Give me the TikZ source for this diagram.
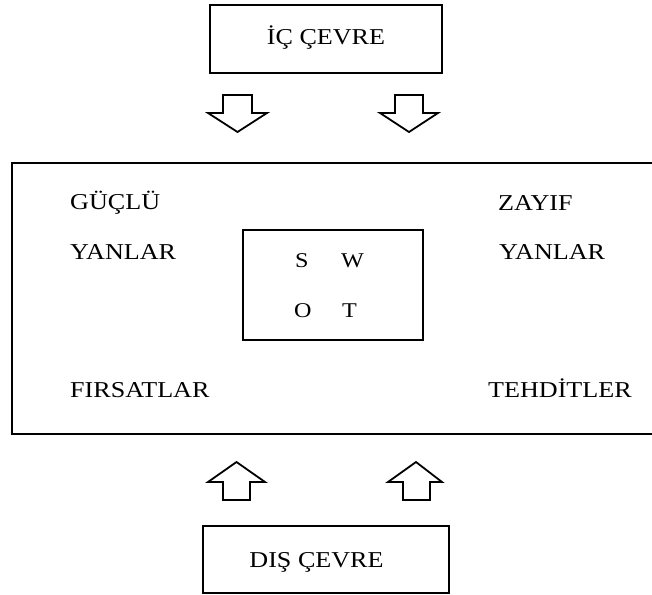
\documentclass[tikz,border=0pt]{standalone}
\usepackage{fontspec}
\setmainfont{Liberation Serif}[FakeStretch=1.15]
\begin{document}
\begin{tikzpicture}[x=1pt,y=-1pt,
  frame/.style={draw=black,line width=2pt},
  blockarrow/.style={draw=black,line width=1.8pt,fill=white,line join=miter},
  lbl/.style={inner sep=0pt,anchor=base west,font=\fontsize{22.7}{27}\selectfont},
  swot/.style={inner sep=0pt,anchor=base west,font=\fontsize{21}{25}\selectfont}]
\useasboundingbox (0,0) rectangle (652,594);
% boxes
\draw[frame] (210,5) rectangle (442,73);
\coordinate (top) at (326,5);
\draw[frame,line width=2.4pt] (12,163) rectangle (660,434);
\draw[frame] (243,230) rectangle (423,340);
\draw[frame] (203,526) rectangle (449,593);
% top box text
\node[lbl,anchor=base] (ic) at (326,45) {İÇ ÇEVRE};
\node[lbl,anchor=base] (dis) at (316.5,567) {DIŞ ÇEVRE};
% arrows down
\draw[blockarrow] (223,95) -- (252,95) -- (252,113) -- (267,113) -- (237.5,132) -- (208,113) -- (223,113) -- cycle;
\draw[blockarrow] (395,95) -- (423,95) -- (423,113) -- (438,113) -- (409,132) -- (380,113) -- (395,113) -- cycle;
% arrows up
\draw[blockarrow] (223,500) -- (250,500) -- (250,482) -- (265,482) -- (236.5,462) -- (208,482) -- (223,482) -- cycle;
\draw[blockarrow] (403,500) -- (430,500) -- (430,482) -- (442,482) -- (416,462) -- (388,482) -- (403,482) -- cycle;
% labels
\node[lbl] (guclu) at (70,209) {GÜÇLÜ};
\node[lbl] (yanl) at (70,259) {YANLAR};
\node[lbl] (firs) at (70,397) {FIRSATLAR};
\node[lbl] (zayif) at (498,210) {ZAYIF};
\node[lbl] (yanr) at (499,259) {YANLAR};
\node[lbl] (tehd) at (488,397) {TEHDİTLER};
% SWOT
\node[swot] (s) at (295,267) {S};
\node[swot] (w) at (341,267) {W};
\node[swot] (o) at (294,317) {O};
\node[swot] (t) at (342,317) {T};
\end{tikzpicture}
\end{document}
